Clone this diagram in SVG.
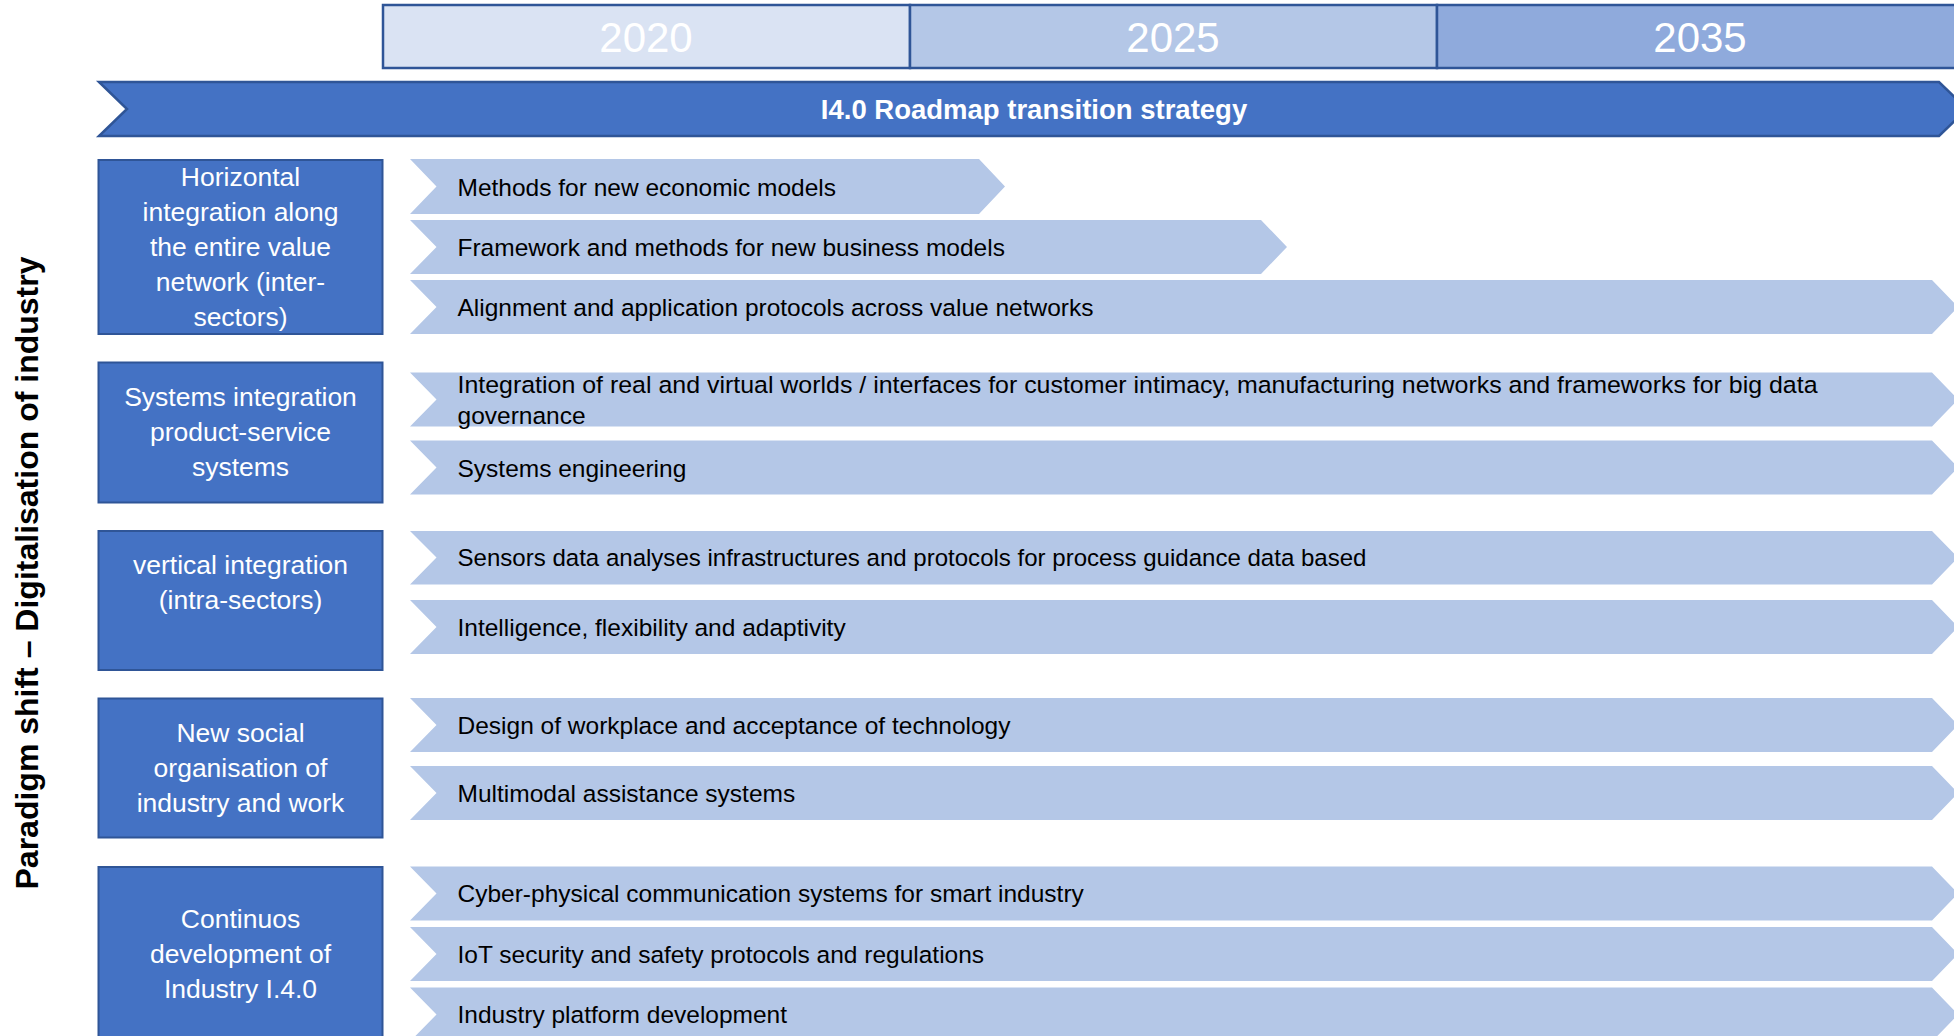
<svg xmlns="http://www.w3.org/2000/svg" width="1954" height="1036" viewBox="0 0 1954 1036">
<style>
.yr{font-family:"Liberation Sans",Arial,sans-serif;font-size:42px;fill:#FFFFFF;text-anchor:middle}
.cat rect{fill:#4472C4;stroke:#2F5597;stroke-width:2}
.cat text{font-family:"Liberation Sans",Arial,sans-serif;font-size:26.5px;fill:#FFFFFF;text-anchor:middle}
.chev path{fill:#B4C7E7}
.chev text{font-family:"Liberation Sans",Arial,sans-serif;font-size:24.5px;fill:#000000}
</style>
<rect width="1954" height="1036" fill="#FFFFFF"/>
<g id="years">
<rect x="383" y="5" width="527" height="63" fill="#DAE3F3" stroke="#2F5597" stroke-width="2.5"/>
<rect x="910" y="5" width="527" height="63" fill="#B4C7E7" stroke="#2F5597" stroke-width="2.5"/>
<rect x="1437" y="5" width="527" height="63" fill="#8FAADC" stroke="#2F5597" stroke-width="2.5"/>
<text class="yr" x="646" y="52">2020</text>
<text class="yr" x="1173" y="52">2025</text>
<text class="yr" x="1700" y="52">2035</text>
</g>
<g id="banner">
<path d="M99,82 L1939,82 L1967,109 L1939,136 L99,136 L127,109 Z" fill="#4472C4" stroke="#2F5597" stroke-width="2.5"/>
<text x="1034" y="119" font-family="'Liberation Sans',Arial,sans-serif" font-size="27.5" font-weight="bold" fill="#FFFFFF" text-anchor="middle">I4.0 Roadmap transition strategy</text>
</g>
<g id="side-label">
<text transform="translate(38,573) rotate(-90)" font-family="'Liberation Sans',Arial,sans-serif" font-size="32" font-weight="bold" fill="#000000" text-anchor="middle">Paradigm shift – Digitalisation of industry</text>
</g>
<g id="cat-horizontal" class="cat">
<rect x="98.5" y="160" width="284" height="174"/>
<text x="240.5" y="186">Horizontal</text>
<text x="240.5" y="221">integration along</text>
<text x="240.5" y="256">the entire value</text>
<text x="240.5" y="291">network (inter-</text>
<text x="240.5" y="326">sectors)</text>
</g>
<g id="cat-systems" class="cat">
<rect x="98.5" y="362.5" width="284" height="140"/>
<text x="240.5" y="406">Systems integration</text>
<text x="240.5" y="441">product-service</text>
<text x="240.5" y="476">systems</text>
</g>
<g id="cat-vertical" class="cat">
<rect x="98.5" y="531" width="284" height="139"/>
<text x="240.5" y="574">vertical integration</text>
<text x="240.5" y="609">(intra-sectors)</text>
</g>
<g id="cat-social" class="cat">
<rect x="98.5" y="698.5" width="284" height="139"/>
<text x="240.5" y="742">New social</text>
<text x="240.5" y="777">organisation of</text>
<text x="240.5" y="812">industry and work</text>
</g>
<g id="cat-continuous" class="cat">
<rect x="98.5" y="867" width="284" height="180"/>
<text x="240.5" y="928">Continuos</text>
<text x="240.5" y="963">development of</text>
<text x="240.5" y="998">Industry I.4.0</text>
</g>
<g id="c1" class="chev"><path d="M410,159 L979,159 L1005,186.5 L979,214 L410,214 L436.5,186.5 Z"/><text x="457.5" y="196">Methods for new economic models</text></g>
<g id="c2" class="chev"><path d="M410,220 L1261,220 L1287,247 L1261,274 L410,274 L436.5,247 Z"/><text x="457.5" y="256">Framework and methods for new business models</text></g>
<g id="c3" class="chev"><path d="M410,280 L1932,280 L1958,307 L1932,334 L410,334 L436.5,307 Z"/><text x="457.5" y="316">Alignment and application protocols across value networks</text></g>
<g id="c4" class="chev"><path d="M410,372.5 L1932,372.5 L1958,399.5 L1932,426.5 L410,426.5 L436.5,399.5 Z"/><text x="457.5" y="393" textLength="1360" lengthAdjust="spacingAndGlyphs">Integration of real and virtual worlds / interfaces for customer intimacy, manufacturing networks and frameworks for big data</text><text x="457.5" y="424">governance</text></g>
<g id="c5" class="chev"><path d="M410,440.5 L1932,440.5 L1958,467.5 L1932,494.5 L410,494.5 L436.5,467.5 Z"/><text x="457.5" y="477">Systems engineering</text></g>
<g id="c6" class="chev"><path d="M410,531 L1932,531 L1958,557.5 L1932,584.5 L410,584.5 L436.5,557.5 Z"/><text x="457.5" y="566" textLength="909" lengthAdjust="spacingAndGlyphs">Sensors data analyses infrastructures and protocols for process guidance data based</text></g>
<g id="c7" class="chev"><path d="M410,600 L1932,600 L1958,627 L1932,654 L410,654 L436.5,627 Z"/><text x="457.5" y="636">Intelligence, flexibility and adaptivity</text></g>
<g id="c8" class="chev"><path d="M410,698 L1932,698 L1958,725 L1932,752 L410,752 L436.5,725 Z"/><text x="457.5" y="734">Design of workplace and acceptance of technology</text></g>
<g id="c9" class="chev"><path d="M410,766 L1932,766 L1958,793 L1932,820 L410,820 L436.5,793 Z"/><text x="457.5" y="802">Multimodal assistance systems</text></g>
<g id="c10" class="chev"><path d="M410,866.5 L1932,866.5 L1958,893.5 L1932,920.5 L410,920.5 L436.5,893.5 Z"/><text x="457.5" y="902">Cyber-physical communication systems for smart industry</text></g>
<g id="c11" class="chev"><path d="M410,927 L1932,927 L1958,954 L1932,981 L410,981 L436.5,954 Z"/><text x="457.5" y="963">IoT security and safety protocols and regulations</text></g>
<g id="c12" class="chev"><path d="M410,987.5 L1932,987.5 L1958,1014.5 L1932,1041.5 L410,1041.5 L436.5,1014.5 Z"/><text x="457.5" y="1023">Industry platform development</text></g>
<g id="connectors"></g>
</svg>
